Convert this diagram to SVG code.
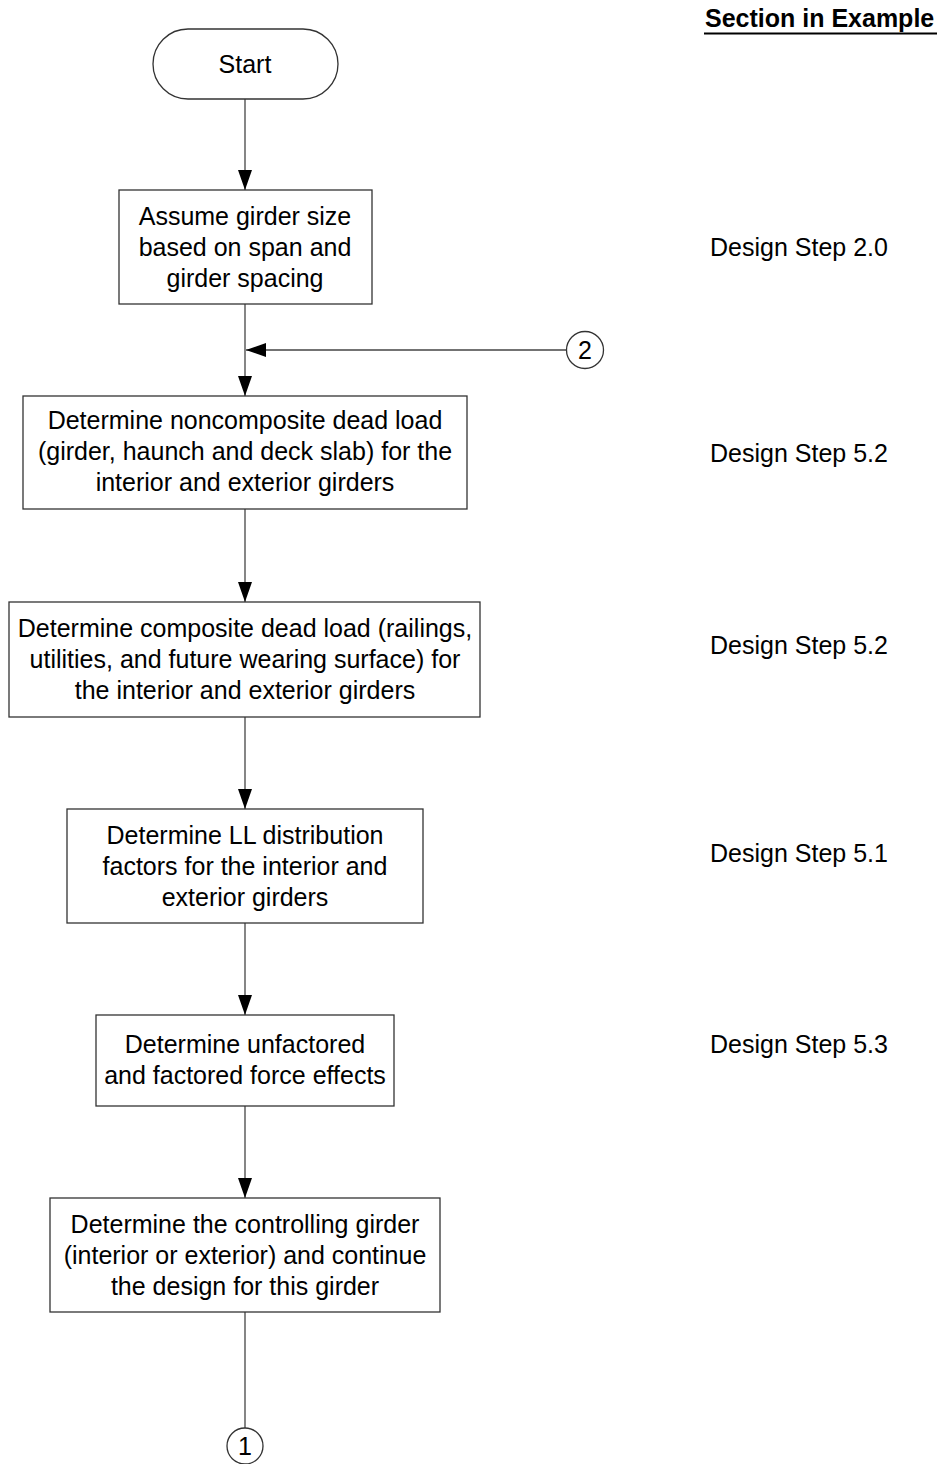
<svg xmlns="http://www.w3.org/2000/svg" width="942" height="1464" viewBox="0 0 942 1464">
<style>
.box{fill:#fff;stroke:#333;stroke-width:1.3}
.t{font-family:"Liberation Sans",Arial,sans-serif;font-size:25px;fill:#000;text-anchor:middle}
.s{font-family:"Liberation Sans",Arial,sans-serif;font-size:25px;fill:#000}
.c{fill:none;stroke:#444;stroke-width:1.3}
</style>
<defs>
<marker id="ah" markerWidth="20" markerHeight="14" refX="20" refY="7" orient="auto" markerUnits="userSpaceOnUse">
<path d="M0,0 L20,7 L0,14 Z" fill="#000"/>
</marker>
</defs>
<rect width="942" height="1464" fill="#fff"/>
<g id="header">
<text x="705" y="27" class="s" font-weight="bold">Section in Example</text>
<line x1="704" y1="33.5" x2="937" y2="33.5" stroke="#000" stroke-width="1.8"/>
</g>
<g id="connectors">
<line class="c" x1="245" y1="99" x2="245" y2="190" marker-end="url(#ah)"/>
<line class="c" x1="245" y1="304" x2="245" y2="396" marker-end="url(#ah)"/>
<line class="c" x1="566.5" y1="350" x2="246" y2="350" marker-end="url(#ah)"/>
<line class="c" x1="245" y1="509" x2="245" y2="602" marker-end="url(#ah)"/>
<line class="c" x1="245" y1="717" x2="245" y2="809" marker-end="url(#ah)"/>
<line class="c" x1="245" y1="923" x2="245" y2="1015" marker-end="url(#ah)"/>
<line class="c" x1="245" y1="1106" x2="245" y2="1198" marker-end="url(#ah)"/>
<line class="c" x1="245" y1="1312" x2="245" y2="1428"/>
</g>
<g id="start">
<rect class="box" x="153" y="29" width="185" height="70" rx="35" ry="35"/>
<text class="t" x="245" y="73">Start</text>
</g>
<g id="n1">
<rect class="box" x="119" y="190" width="253" height="114"/>
<text class="t" x="245" y="225">Assume girder size</text>
<text class="t" x="245" y="256">based on span and</text>
<text class="t" x="245" y="287">girder spacing</text>
</g>
<g id="c2">
<circle class="box" cx="585" cy="350" r="18.5"/>
<text class="t" x="585" y="359">2</text>
</g>
<g id="n2">
<rect class="box" x="23" y="396" width="444" height="113"/>
<text class="t" x="245" y="429">Determine noncomposite dead load</text>
<text class="t" x="245" y="460">(girder, haunch and deck slab) for the</text>
<text class="t" x="245" y="491">interior and exterior girders</text>
</g>
<g id="n3">
<rect class="box" x="9" y="602" width="471" height="115"/>
<text class="t" x="245" y="637">Determine composite dead load (railings,</text>
<text class="t" x="245" y="668">utilities, and future wearing surface) for</text>
<text class="t" x="245" y="699">the interior and exterior girders</text>
</g>
<g id="n4">
<rect class="box" x="67" y="809" width="356" height="114"/>
<text class="t" x="245" y="844">Determine LL distribution</text>
<text class="t" x="245" y="875">factors for the interior and</text>
<text class="t" x="245" y="906">exterior girders</text>
</g>
<g id="n5">
<rect class="box" x="96" y="1015" width="298" height="91"/>
<text class="t" x="245" y="1053">Determine unfactored</text>
<text class="t" x="245" y="1084">and factored force effects</text>
</g>
<g id="n6">
<rect class="box" x="50" y="1198" width="390" height="114"/>
<text class="t" x="245" y="1233">Determine the controlling girder</text>
<text class="t" x="245" y="1264">(interior or exterior) and continue</text>
<text class="t" x="245" y="1295">the design for this girder</text>
</g>
<g id="c1">
<circle class="box" cx="245" cy="1446" r="18"/>
<text class="t" x="245" y="1455">1</text>
</g>
<g id="sections">
<text class="s" x="710" y="256">Design Step 2.0</text>
<text class="s" x="710" y="462">Design Step 5.2</text>
<text class="s" x="710" y="654">Design Step 5.2</text>
<text class="s" x="710" y="862">Design Step 5.1</text>
<text class="s" x="710" y="1053">Design Step 5.3</text>
</g>
</svg>
